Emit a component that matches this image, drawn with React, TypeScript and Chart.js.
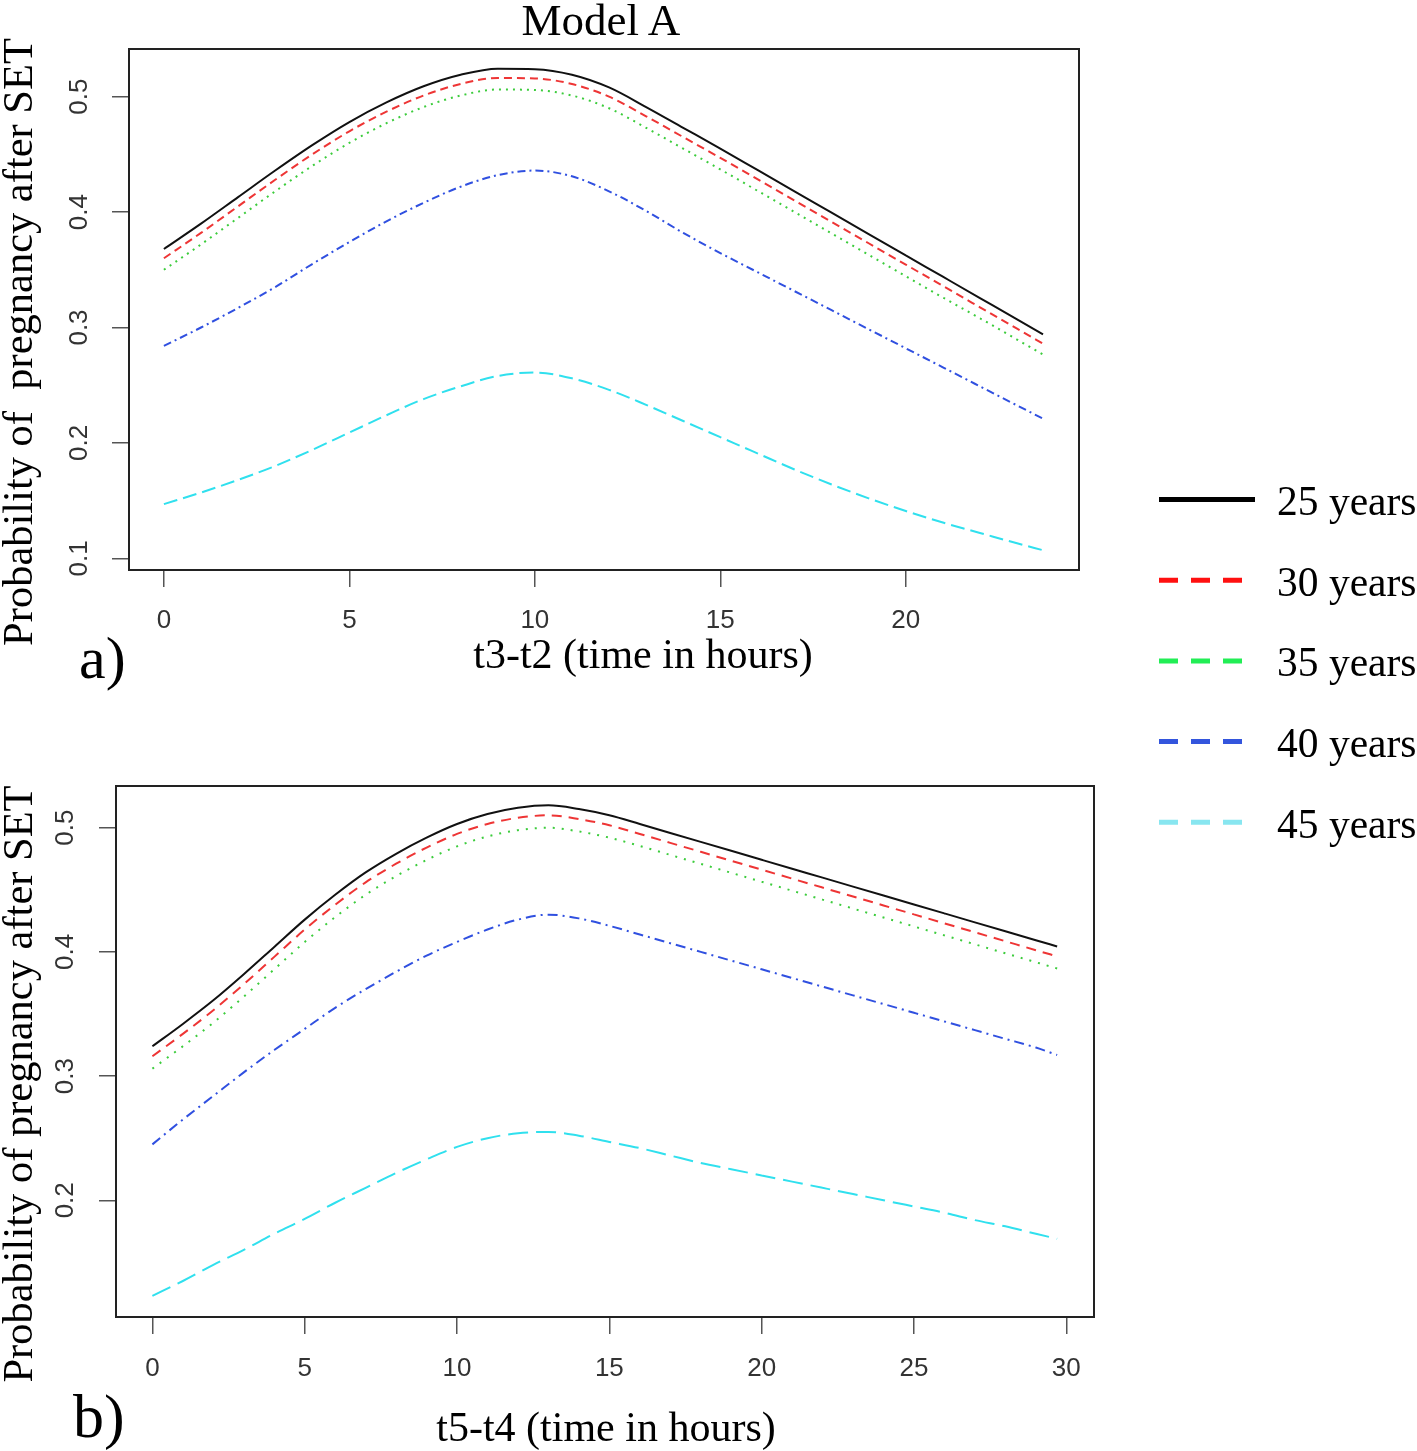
import React, { useEffect, useRef } from 'react';
import { Chart, registerables } from 'chart.js';

Chart.register(...registerables);

// ---------- data ----------
const seriesLabels = ['25 years', '30 years', '35 years', '40 years', '45 years'];

const hoursA = [0, 1, 2, 3, 4, 5, 6, 7, 8, 9, 10, 11, 12, 13, 14, 15, 16, 17, 18, 19, 20, 21, 22, 23, 23.7];
const a25 = [0.368, 0.390, 0.413, 0.436, 0.458, 0.478, 0.495, 0.509, 0.519, 0.5242, 0.5238, 0.519, 0.508, 0.491, 0.473, 0.455, 0.4365, 0.418, 0.3995, 0.381, 0.3625, 0.344, 0.3255, 0.307, 0.294];
const a30 = [0.360, 0.382, 0.405, 0.428, 0.450, 0.470, 0.487, 0.501, 0.511, 0.5162, 0.5158, 0.511, 0.500, 0.483, 0.465, 0.447, 0.4285, 0.410, 0.3915, 0.373, 0.3545, 0.336, 0.3175, 0.299, 0.286];
const a35 = [0.350, 0.372, 0.395, 0.418, 0.440, 0.460, 0.477, 0.491, 0.501, 0.5062, 0.5058, 0.501, 0.490, 0.473, 0.455, 0.437, 0.4185, 0.400, 0.3815, 0.363, 0.3445, 0.326, 0.308, 0.2895, 0.2765];
const a40 = [0.284, 0.300, 0.317, 0.335, 0.355, 0.374, 0.392, 0.408, 0.422, 0.432, 0.436, 0.431, 0.418, 0.401, 0.382, 0.3645, 0.348, 0.3315, 0.315, 0.2985, 0.282, 0.2655, 0.249, 0.2325, 0.221];
const a45 = [0.147, 0.157, 0.168, 0.180, 0.194, 0.209, 0.224, 0.238, 0.249, 0.258, 0.261, 0.256, 0.246, 0.233, 0.219, 0.205, 0.191, 0.177, 0.164, 0.152, 0.141, 0.131, 0.122, 0.113, 0.107];

const hoursB = [0, 1, 2, 3, 4, 5, 6, 7, 8, 9, 10, 11, 12, 13, 14, 15, 16, 17, 18, 19, 20, 21, 22, 23, 24, 25, 26, 27, 28, 29, 29.7];
const b25 = [0.324, 0.342, 0.361, 0.382, 0.404, 0.426, 0.446, 0.464, 0.479, 0.492, 0.503, 0.511, 0.516, 0.518, 0.515, 0.510, 0.503, 0.4958, 0.4886, 0.4814, 0.4742, 0.467, 0.4598, 0.4526, 0.4454, 0.4382, 0.431, 0.4238, 0.4166, 0.4094, 0.4044];
const b30 = [0.316, 0.334, 0.353, 0.374, 0.396, 0.418, 0.438, 0.456, 0.471, 0.484, 0.495, 0.503, 0.508, 0.510, 0.507, 0.502, 0.495, 0.4878, 0.4806, 0.4734, 0.4662, 0.459, 0.4518, 0.4446, 0.4374, 0.4302, 0.423, 0.4158, 0.4086, 0.4014, 0.3964];
const b35 = [0.306, 0.324, 0.343, 0.364, 0.386, 0.408, 0.428, 0.446, 0.461, 0.474, 0.485, 0.493, 0.498, 0.500, 0.497, 0.492, 0.4853, 0.4781, 0.4709, 0.4637, 0.4565, 0.4493, 0.4421, 0.4349, 0.4277, 0.4205, 0.4133, 0.4061, 0.3989, 0.3917, 0.3867];
const b40 = [0.245, 0.265, 0.284, 0.303, 0.321, 0.338, 0.355, 0.370, 0.384, 0.397, 0.408, 0.418, 0.426, 0.430, 0.427, 0.421, 0.414, 0.407, 0.400, 0.393, 0.386, 0.379, 0.372, 0.365, 0.358, 0.351, 0.344, 0.337, 0.330, 0.323, 0.317];
const b45 = [0.123, 0.135, 0.148, 0.160, 0.173, 0.185, 0.198, 0.210, 0.222, 0.233, 0.243, 0.250, 0.254, 0.255, 0.252, 0.247, 0.242, 0.236, 0.230, 0.225, 0.220, 0.215, 0.210, 0.205, 0.200, 0.195, 0.190, 0.184, 0.179, 0.173, 0.169];

const xTicksA = [0, 5, 10, 15, 20];
const yTicksA = [0.1, 0.2, 0.3, 0.4, 0.5];
const xTicksB = [0, 5, 10, 15, 20, 25, 30];
const yTicksB = [0.2, 0.3, 0.4, 0.5];

// ---------- styles ----------
const lineColors = ['#111111', '#ee3535', '#3ccc3c', '#3050e0', '#30e0ee'];
const legendColors = ['#000000', '#ff1010', '#22ee55', '#3355dd', '#88e6f0'];
const dashesA = [[], [8, 5], [2, 5], [8, 4, 2, 4], [14, 6]];
const dashesB = [[], [10, 7], [2, 7], [10, 5, 2, 5], [20, 8]];

const SERIF = "'Liberation Serif', 'Times New Roman', Times, serif";
const SANS = "'Liberation Sans', Arial, Helvetica, sans-serif";

const boxPlugin = {
  id: 'rbox',
  afterDraw(chart: any) {
    const { ctx, chartArea: a } = chart;
    ctx.save();
    ctx.strokeStyle = '#222222';
    ctx.lineWidth = 2;
    ctx.strokeRect(a.left, a.top, a.right - a.left, a.bottom - a.top);
    ctx.restore();
  },
};

type Geom = {
  w: number; h: number; left: number; top: number; right: number; bottom: number;
  xMin: number; xMax: number; yMin: number; yMax: number; tickLen: number; xPad: number; yPad: number;
};

function makeConfig(xs: number[], series: number[][], xTicks: number[], yTicks: number[], dashes: number[][], g: Geom): any {
  const tickFont = { family: SANS, size: 26 };
  return {
    type: 'line',
    data: {
      datasets: series.map((ys, i) => ({
        label: seriesLabels[i],
        data: xs.map((x, j) => ({ x, y: ys[j] })),
        borderColor: lineColors[i],
        borderWidth: 2,
        borderDash: dashes[i],
        pointRadius: 0,
        fill: false,
        cubicInterpolationMode: 'monotone',
      })),
    },
    options: {
      responsive: false,
      maintainAspectRatio: false,
      animation: false,
      devicePixelRatio: 1,
      layout: { padding: { top: g.top, right: g.w - g.right, left: 0, bottom: 0 } },
      plugins: { legend: { display: false }, tooltip: { enabled: false }, title: { display: false } },
      scales: {
        x: {
          type: 'linear',
          min: g.xMin,
          max: g.xMax,
          afterBuildTicks: (s: any) => { s.ticks = xTicks.map((v) => ({ value: v })); },
          afterFit: (s: any) => { s.height = g.h - g.bottom; },
          grid: { drawOnChartArea: false, drawTicks: true, tickLength: g.tickLen, color: '#555555', lineWidth: 1.5 },
          border: { display: false },
          ticks: { font: tickFont, color: '#333333', padding: g.xPad, autoSkip: false, minRotation: 0, maxRotation: 0 },
        },
        y: {
          type: 'linear',
          min: g.yMin,
          max: g.yMax,
          afterBuildTicks: (s: any) => { s.ticks = yTicks.map((v) => ({ value: v })); },
          afterFit: (s: any) => { s.width = g.left; },
          grid: { drawOnChartArea: false, drawTicks: true, tickLength: g.tickLen, color: '#555555', lineWidth: 1.5 },
          border: { display: false },
          ticks: { font: tickFont, color: '#333333', padding: g.yPad, autoSkip: false, minRotation: 90, maxRotation: 90, crossAlign: 'center' },
        },
      },
    },
    plugins: [boxPlugin],
  };
}

const geomA: Geom = { w: 1100, h: 700, left: 129, top: 49, right: 1079, bottom: 570, xMin: -0.941, xMax: 24.67, yMin: 0.0899, yMax: 0.5413, tickLen: 17, xPad: 18, yPad: 14 };
const geomB: Geom = { w: 1110, h: 731, left: 116, top: 66, right: 1094, bottom: 597, xMin: -1.195, xMax: 30.91, yMin: 0.106, yMax: 0.5336, tickLen: 17, xPad: 19, yPad: 15 };
const canvasBTop = 720;

function Panel({ xs, series, xTicks, yTicks, dashes, g, top }: any) {
  const ref = useRef<HTMLCanvasElement | null>(null);
  useEffect(() => {
    if (!ref.current) return;
    const chart = new Chart(ref.current, makeConfig(xs, series, xTicks, yTicks, dashes, g));
    return () => chart.destroy();
  }, []);
  return (
    <canvas
      ref={ref}
      width={g.w}
      height={g.h}
      style={{ position: 'absolute', left: 0, top, width: g.w, height: g.h }}
    />
  );
}

export default function App() {
  const legendLineY = (i: number) => 499.5 + i * 80.7;
  return (
    <div style={{ position: 'absolute', left: 0, top: 0, width: 1417, height: 1451, background: '#ffffff', overflow: 'hidden' }}>
      <Panel xs={hoursA} series={[a25, a30, a35, a40, a45]} xTicks={xTicksA} yTicks={yTicksA} dashes={dashesA} g={geomA} top={0} />
      <Panel xs={hoursB} series={[b25, b30, b35, b40, b45]} xTicks={xTicksB} yTicks={yTicksB} dashes={dashesB} g={geomB} top={canvasBTop} />
      <svg width={1417} height={1451} style={{ position: 'absolute', left: 0, top: 0, pointerEvents: 'none' }}>
        <g fontFamily={SERIF} fill="#000000">
          <text x={601} y={35} fontSize={45} textAnchor="middle">Model A</text>
          <text x={32} y={342} fontSize={42.5} textAnchor="middle" transform="rotate(-90 32 342)" style={{ whiteSpace: 'pre' }}>{'Probability of  pregnancy after SET'}</text>
          <text x={32} y={1084} fontSize={42.5} textAnchor="middle" transform="rotate(-90 32 1084)">Probability of pregnancy after SET</text>
          <text x={643} y={668} fontSize={42} textAnchor="middle">t3-t2 (time in hours)</text>
          <text x={606} y={1441} fontSize={42} textAnchor="middle">t5-t4 (time in hours)</text>
          <text x={79} y={678} fontSize={60}>a)</text>
          <text x={73} y={1437} fontSize={62}>b)</text>
          {seriesLabels.map((lab, i) => (
            <g key={lab}>
              <line
                x1={1159}
                x2={i === 0 ? 1255 : 1242}
                y1={legendLineY(i)}
                y2={legendLineY(i)}
                stroke={legendColors[i]}
                strokeWidth={5}
                strokeDasharray={i === 0 ? undefined : '19 13'}
              />
              <text x={1277} y={legendLineY(i) + 15.5} fontSize={41.5}>{lab}</text>
            </g>
          ))}
        </g>
      </svg>
    </div>
  );
}
